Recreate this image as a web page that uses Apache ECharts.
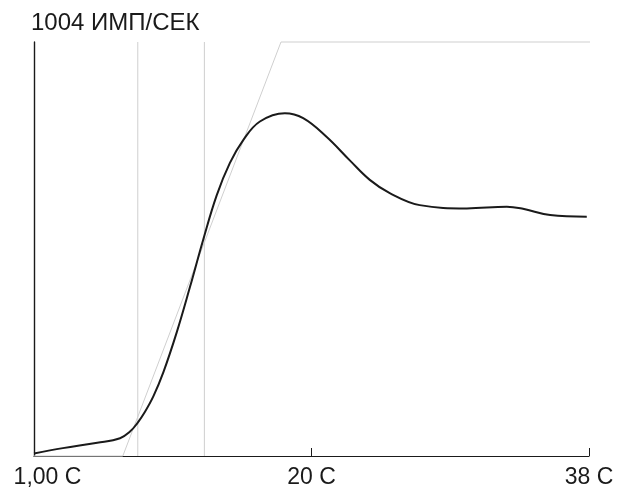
<!DOCTYPE html>
<html>
<head>
<meta charset="utf-8">
<script src="https://cdn.jsdelivr.net/npm/echarts@6/dist/echarts.min.js"></script>
<style>
    html, body { margin: 0; padding: 0; background: #fff; }
    #chart { width: 623px; height: 494px; }
</style>
</head>
<body>
<div id="chart"></div>
<script>
    // ось времени в долях (0..100), подписи отдельно
    var xTicks = [0, 50, 100];
    var xTickLabels = ['1,00 С', '20 С', '38 С'];

    // кривая счета
    var curveX = [0, 5.2, 11.4, 15.5, 17.3, 18.6, 20.0, 21.5, 23.3, 25.7, 28.1, 30.5, 32.9, 35.3, 37.7, 40.7, 45.2, 48.5, 52.7, 56.9, 60.5, 64.1, 69.5, 78.0, 85.2, 88.1, 93.0, 99.6];
    var curveY = [0.6, 1.9, 3.2, 4.3, 5.9, 7.9, 10.7, 14.4, 20.2, 29.8, 40.8, 52.3, 62.9, 70.8, 76.3, 80.8, 82.8, 81.6, 77.1, 71.4, 66.7, 63.5, 60.6, 59.8, 60.2, 59.7, 58.2, 57.8];

    // серая рампа
    var rampX = [0, 16.0, 44.5, 101.4];
    var rampY = [0, 0, 100, 100];

    // вертикальные отметки
    var markerX = [18.7, 30.7];

    var font = 'Liberation Sans, Arial, Helvetica, sans-serif';

    var myChart = echarts.init(document.getElementById('chart'));

    var series = [];
    markerX.forEach(function (x) {
        series.push({
            type: 'line',
            data: [[x, 0], [x, 100]],
            showSymbol: false,
            lineStyle: {color: '#cfcfcf', width: 1},
            z: 1
        });
    });
    series.push({
        type: 'line',
        data: rampX.map(function (x, i) { return [x, rampY[i]]; }),
        showSymbol: false,
        clip: false,
        lineStyle: {color: '#cfcfcf', width: 1},
        z: 1
    });
    series.push({
        type: 'line',
        data: curveX.map(function (x, i) { return [x, curveY[i]]; }),
        showSymbol: false,
        smooth: 0.4,
        lineStyle: {color: '#1a1a1a', width: 2},
        z: 3
    });

    var option = {
        animation: false,
        title: {
            text: '1004 ИМП/СЕК',
            left: 26,
            top: 6,
            textStyle: {fontFamily: font, fontSize: 24, fontWeight: 'normal', color: '#1a1a1a'}
        },
        grid: {left: 34, right: 34, top: 42, bottom: 38},
        xAxis: {
            type: 'value',
            min: 0,
            max: 100,
            interval: 50,
            axisLine: {lineStyle: {color: '#1a1a1a', width: 1.2}},
            axisTick: {inside: true, length: 8, lineStyle: {color: '#1a1a1a', width: 1}},
            splitLine: {show: false},
            axisLabel: {
                margin: 10,
                fontFamily: font,
                fontSize: 23,
                color: '#1a1a1a',
                formatter: function (v) {
                    var i = xTicks.indexOf(v);
                    if (i < 0) return '';
                    return i === 0 ? '{first|' + xTickLabels[i] + '}' : xTickLabels[i];
                },
                rich: {
                    first: {fontFamily: font, fontSize: 23, color: '#1a1a1a', padding: [0, 0, 0, 27]}
                }
            }
        },
        yAxis: {
            type: 'value',
            min: 0,
            max: 100,
            axisLine: {show: true, lineStyle: {color: '#1a1a1a', width: 1.4}},
            axisTick: {show: false},
            axisLabel: {show: false},
            splitLine: {show: false}
        },
        series: series
    };
    myChart.setOption(option);
</script>
</body>
</html>
